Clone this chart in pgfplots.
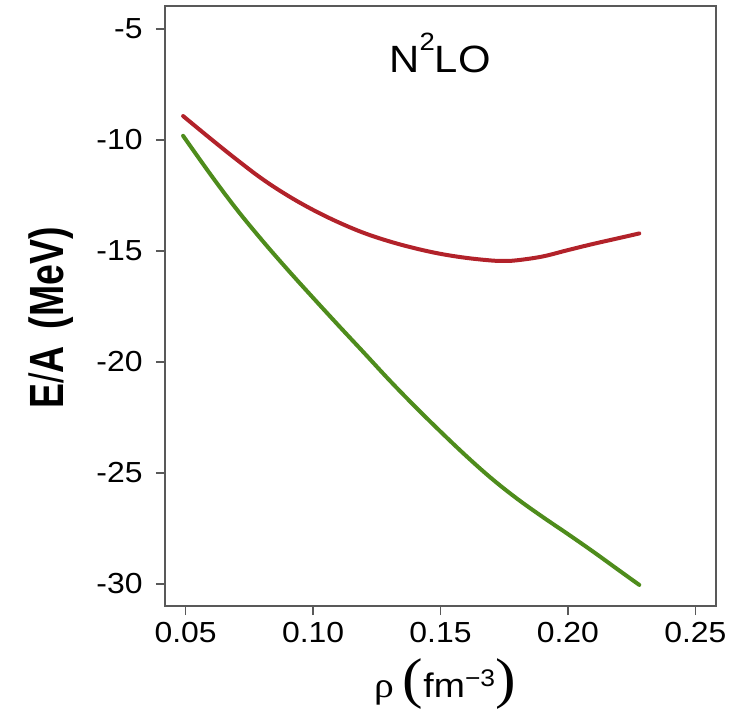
\documentclass[border=0pt]{standalone}
\usepackage{fontspec}
\setmainfont{Liberation Sans}[FakeStretch=1.1]
\newfontfamily\ylabfont{Liberation Sans}[FakeStretch=0.78]
\newfontfamily\serifgr{Liberation Serif}[FakeStretch=1.1]
\usepackage{pgfplots}
\pgfplotsset{compat=1.18}
\definecolor{cred}{RGB}{178,34,42}
\definecolor{cgreen}{RGB}{78,140,28}
\begin{document}
\begin{tikzpicture}
\begin{axis}[
  scale only axis, width=275.5pt, height=300pt,
  xmin=0.0419, xmax=0.2581, ymin=-31.0, ymax=-3.96,
  xtick={0.05,0.10,0.15,0.20,0.25},
  xticklabels={0.05,0.10,0.15,0.20,0.25},
  ytick={-30,-25,-20,-15,-10,-5},
  yticklabels={-30,-25,-20,-15,-10,-5},
  xtick pos=left, ytick pos=left,
  tick align=outside, major tick length=4.5pt,
  axis line style={draw=black!65, line width=0.7pt},
  tick style={draw=black!65, line width=0.7pt},
  ticklabel style={font=\fontsize{14.5}{14.5}\selectfont, inner sep=0pt},
  yticklabel style={xshift=-6.5pt},
  xticklabel style={yshift=-3.35pt},
  xlabel={{\serifgr\fontsize{18}{18}\selectfont ρ}\hspace{0.45em}{\serifgr\fontsize{28}{28}\selectfont (}{\fontsize{17}{17}\selectfont fm}\raisebox{5.5pt}{\fontsize{12}{12}\selectfont −3}{\serifgr\fontsize{28}{28}\selectfont )}},
  xlabel style={at={(rel axis cs:0.508,-0.153)}, anchor=base, inner sep=0pt},
  ylabel={\ylabfont\fontsize{24}{24}\selectfont\bfseries E{\mdseries/}A\hspace{0.35em}(MeV)},
  ylabel style={at={(rel axis cs:-0.207,0.48)}, anchor=center, inner sep=0pt},
  every axis plot/.append style={line width=2pt, line cap=round},
]
\addplot[cred, smooth, tension=0.6] coordinates {
(0.049,-8.92) (0.06,-9.96) (0.07,-10.88) (0.08,-11.75) (0.09,-12.50)
(0.10,-13.15) (0.11,-13.71) (0.12,-14.19) (0.13,-14.57) (0.14,-14.88)
(0.15,-15.13) (0.16,-15.31) (0.17,-15.43) (0.175,-15.45) (0.18,-15.42)
(0.19,-15.25) (0.20,-14.96) (0.21,-14.68) (0.22,-14.42) (0.228,-14.21)
};
\addplot[cgreen, smooth, tension=0.6] coordinates {
(0.049,-9.81) (0.06,-11.59) (0.07,-13.12) (0.08,-14.52) (0.09,-15.84)
(0.10,-17.11) (0.11,-18.36) (0.12,-19.59) (0.13,-20.83) (0.14,-22.01)
(0.15,-23.14) (0.16,-24.23) (0.17,-25.25) (0.18,-26.16) (0.19,-26.98)
(0.20,-27.76) (0.21,-28.56) (0.22,-29.39) (0.228,-30.05)
};
\node[anchor=base, inner sep=0pt] at (axis cs:0.1498,-6.94) {\fontsize{19}{19}\selectfont N\raisebox{11pt}{\fontsize{12.5}{12.5}\selectfont 2}LO};
\end{axis}
\path ([xshift=-82.5pt,yshift=-52.5pt]current axis.south west) rectangle ([xshift=19pt,yshift=3pt]current axis.north east);
\end{tikzpicture}
\end{document}
